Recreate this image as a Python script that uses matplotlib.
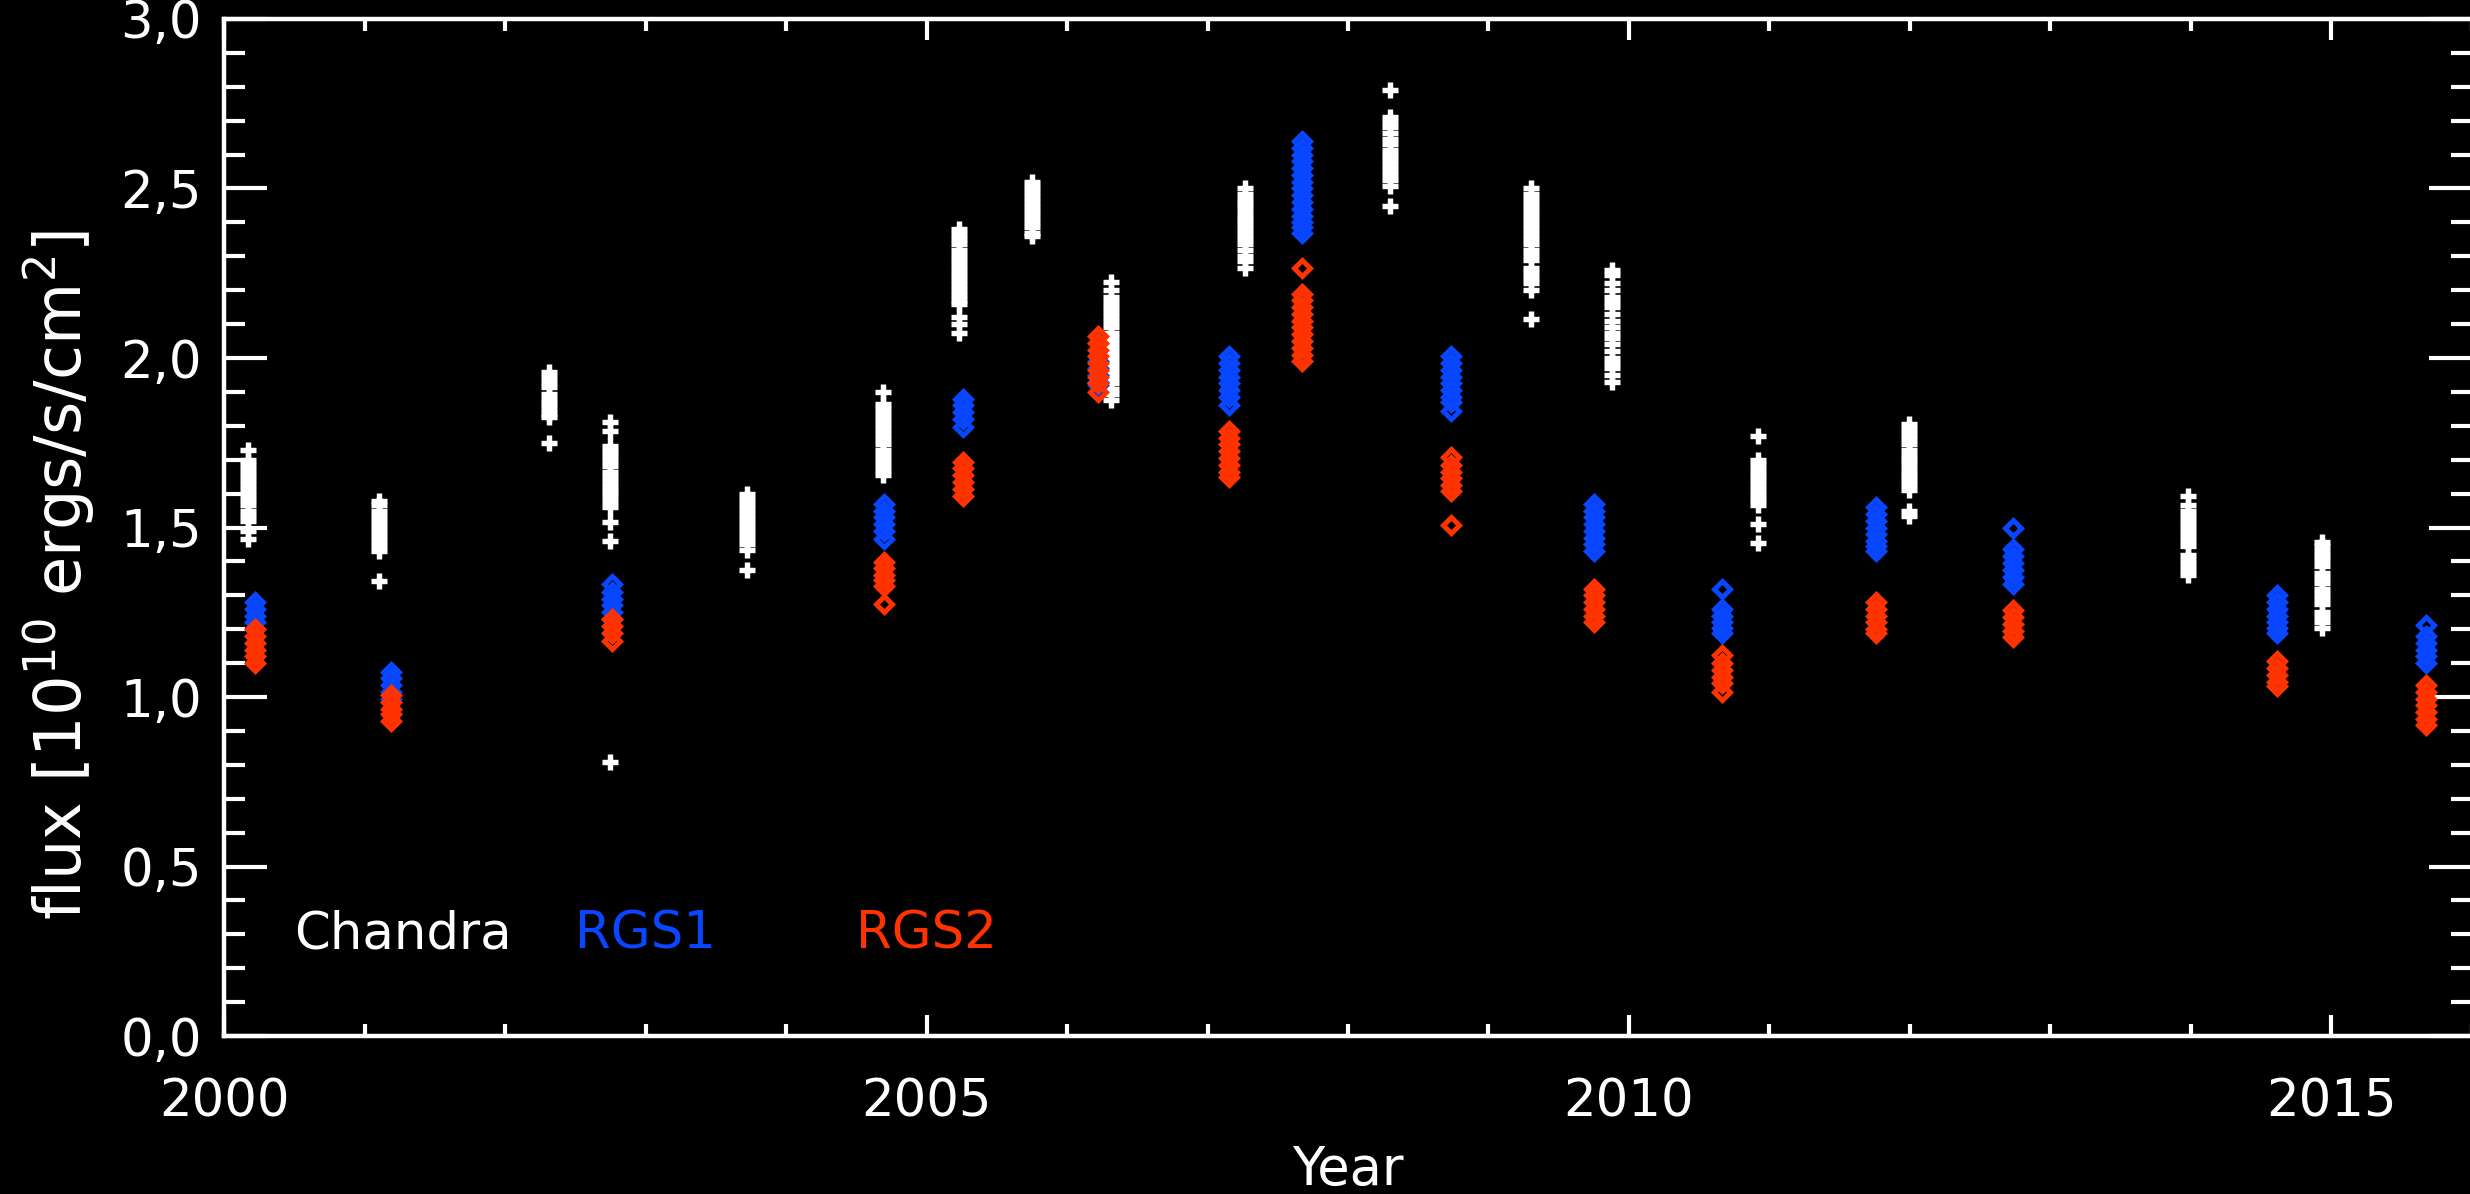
import numpy as np
import matplotlib.pyplot as plt
from matplotlib.ticker import MultipleLocator, FuncFormatter

chandra_years = [2000.17, 2001.10, 2002.31, 2002.75, 2003.72, 2004.69, 2005.23, 2005.75,
                 2006.31, 2007.27, 2008.30, 2009.30, 2009.88, 2010.92, 2011.99, 2013.98, 2014.93]
chandra_flux = [
    [1.73, 1.70, 1.685, 1.67, 1.655, 1.64, 1.625, 1.61, 1.595, 1.58, 1.565, 1.55, 1.535, 1.52, 1.49, 1.465],
    [1.578, 1.565, 1.55, 1.535, 1.52, 1.505, 1.49, 1.475, 1.46, 1.445, 1.43, 1.343],
    [1.96, 1.945, 1.93, 1.915, 1.895, 1.88, 1.865, 1.85, 1.835, 1.825, 1.75],
    [1.81, 1.785, 1.74, 1.725, 1.71, 1.695, 1.68, 1.665, 1.65, 1.635, 1.62, 1.605, 1.59, 1.575, 1.56,
     1.515, 1.46, 0.807],
    [1.60, 1.585, 1.57, 1.555, 1.54, 1.525, 1.51, 1.495, 1.48, 1.465, 1.45, 1.435, 1.375],
    [1.90, 1.865, 1.85, 1.835, 1.82, 1.805, 1.79, 1.775, 1.76, 1.745, 1.73, 1.715, 1.70, 1.685, 1.67, 1.655],
    [2.38, 2.365, 2.35, 2.335, 2.32, 2.305, 2.29, 2.275, 2.26, 2.245, 2.23, 2.215, 2.20, 2.185, 2.17,
     2.16, 2.12, 2.10, 2.075],
    [2.52, 2.505, 2.49, 2.475, 2.46, 2.445, 2.43, 2.415, 2.40, 2.385, 2.37, 2.36],
    [2.225, 2.20, 2.18, 2.165, 2.15, 2.135, 2.12, 2.105, 2.09, 2.075, 2.06, 2.045, 2.03, 2.015, 2.00,
     1.985, 1.97, 1.955, 1.94, 1.925, 1.91, 1.895, 1.877],
    [2.50, 2.485, 2.47, 2.455, 2.44, 2.425, 2.41, 2.395, 2.38, 2.365, 2.35, 2.335, 2.32, 2.30, 2.285, 2.265],
    [2.79, 2.71, 2.695, 2.68, 2.665, 2.645, 2.63, 2.615, 2.60, 2.585, 2.57, 2.555, 2.54, 2.525, 2.507, 2.448],
    [2.50, 2.485, 2.47, 2.455, 2.44, 2.425, 2.41, 2.395, 2.38, 2.365, 2.35, 2.335, 2.32, 2.305, 2.29,
     2.265, 2.25, 2.235, 2.22, 2.20, 2.115],
    [2.26, 2.245, 2.22, 2.20, 2.18, 2.165, 2.15, 2.13, 2.11, 2.09, 2.075, 2.06, 2.04, 2.02, 2.00,
     1.985, 1.97, 1.95, 1.93],
    [1.77, 1.70, 1.685, 1.67, 1.655, 1.64, 1.625, 1.61, 1.595, 1.58, 1.565, 1.51, 1.455],
    [1.806, 1.79, 1.775, 1.76, 1.745, 1.73, 1.715, 1.70, 1.685, 1.67, 1.655, 1.64, 1.625, 1.61, 1.55, 1.535],
    [1.594, 1.565, 1.55, 1.535, 1.52, 1.505, 1.49, 1.475, 1.46, 1.445, 1.42, 1.405, 1.39, 1.375, 1.36],
    [1.458, 1.445, 1.43, 1.415, 1.40, 1.385, 1.365, 1.35, 1.335, 1.32, 1.305, 1.29, 1.275, 1.25,
     1.235, 1.22, 1.205],
]

rgs_years = [2000.22, 2001.19, 2002.76, 2004.70, 2005.26, 2006.22, 2007.15, 2007.67,
             2008.73, 2009.75, 2010.66, 2011.76, 2012.73, 2014.61, 2015.67]
rgs1_flux = [
    [1.28, 1.26, 1.24, 1.22, 1.20],
    [1.074, 1.055, 1.035, 1.015, 0.995],
    [1.333, 1.31, 1.29, 1.27, 1.25, 1.23],
    [1.57, 1.55, 1.53, 1.51, 1.49, 1.466],
    [1.878, 1.86, 1.84, 1.82, 1.795],
    [1.99, 1.97, 1.95, 1.93, 1.92],
    [2.006, 1.985, 1.965, 1.945, 1.925, 1.905, 1.885, 1.86],
    [2.64, 2.62, 2.60, 2.58, 2.56, 2.54, 2.52, 2.50, 2.48, 2.46, 2.44, 2.42, 2.40, 2.385, 2.37],
    [2.006, 1.985, 1.965, 1.945, 1.925, 1.905, 1.885, 1.87, 1.845],
    [1.57, 1.55, 1.53, 1.51, 1.49, 1.47, 1.45, 1.43],
    [1.32, 1.26, 1.24, 1.22, 1.205, 1.19],
    [1.56, 1.54, 1.52, 1.50, 1.48, 1.46, 1.445, 1.43],
    [1.50, 1.436, 1.415, 1.395, 1.375, 1.355, 1.333],
    [1.30, 1.28, 1.26, 1.24, 1.22, 1.205, 1.19],
    [1.212, 1.18, 1.16, 1.14, 1.12, 1.10],
]
rgs2_flux = [
    [1.20, 1.18, 1.16, 1.14, 1.12, 1.10],
    [1.006, 0.985, 0.965, 0.95, 0.93],
    [1.23, 1.21, 1.19, 1.165],
    [1.398, 1.38, 1.36, 1.345, 1.327, 1.274],
    [1.693, 1.675, 1.655, 1.635, 1.615, 1.593],
    [2.065, 2.045, 2.025, 2.005, 1.985, 1.965, 1.945, 1.925, 1.90],
    [1.785, 1.765, 1.745, 1.725, 1.705, 1.685, 1.665, 1.65],
    [2.265, 2.19, 2.17, 2.15, 2.13, 2.11, 2.09, 2.07, 2.05, 2.03, 2.01, 1.99],
    [1.707, 1.685, 1.665, 1.645, 1.625, 1.607, 1.506],
    [1.32, 1.30, 1.28, 1.26, 1.24, 1.22],
    [1.124, 1.10, 1.08, 1.06, 1.04, 1.015],
    [1.28, 1.26, 1.24, 1.22, 1.20, 1.19],
    [1.257, 1.235, 1.215, 1.195, 1.177],
    [1.106, 1.085, 1.065, 1.045, 1.033],
    [1.036, 1.015, 0.995, 0.975, 0.955, 0.935, 0.918],
]

label_names = ['Chandra', 'RGS1', 'RGS2']
label_years = [2000.5, 2002.5, 2004.5]

white = 'white'
blue = '#0846ff'
red = '#ff3300'

plt.rcParams['font.family'] = ['DejaVu Sans']

fig = plt.figure(figsize=(24.7, 11.94), dpi=100, facecolor='black')
ax = fig.add_axes([0.0907, 0.1323, 1.0008 - 0.0907, 0.9841 - 0.1323])
ax.set_facecolor('black')

# chandra first, then rgs1, rgs2 on top
for yr, fl in zip(chandra_years, chandra_flux):
    ax.plot([yr] * len(fl), fl, ls='none', marker='+', ms=11.5, mew=3.9, color=white)
for yr, fl in zip(rgs_years, rgs1_flux):
    ax.plot([yr] * len(fl), fl, ls='none', marker='D', ms=8.5, mew=3.6, mfc='none', mec=blue)
for yr, fl in zip(rgs_years, rgs2_flux):
    ax.plot([yr] * len(fl), fl, ls='none', marker='D', ms=8.5, mew=3.6, mfc='none', mec=red)

for name, yr, col in zip(label_names, label_years, [white, blue, red]):
    ax.text(yr, 0.30, name, color=col, fontsize=37, va='center', ha='left')

ax.set_xlim(2000, 2016)
ax.set_ylim(0, 3.0)

ax.xaxis.set_major_locator(MultipleLocator(5))
ax.xaxis.set_minor_locator(MultipleLocator(1))
ax.yaxis.set_major_locator(MultipleLocator(0.5))
ax.yaxis.set_minor_locator(MultipleLocator(0.1))
ax.xaxis.set_major_formatter(FuncFormatter(lambda v, p: '%d' % round(v)))
ax.yaxis.set_major_formatter(FuncFormatter(lambda v, p: ('%.1f' % v).replace('.', ',')))

for s in ax.spines.values():
    s.set_color(white)
    s.set_linewidth(3.2)

ax.tick_params(axis='both', which='both', direction='in', colors=white,
               top=True, right=True, width=3)
ax.tick_params(axis='x', which='major', length=15, labelsize=37, pad=30)
ax.tick_params(axis='x', which='minor', length=8.5)
ax.tick_params(axis='y', which='major', length=31, labelsize=37, pad=16)
ax.tick_params(axis='y', which='minor', length=15)

fig.canvas.draw()
ylabs = ax.get_yticklabels()
ylabs[0].set_va('bottom')
ylabs[-1].set_va('top')

ax.set_xlabel('Year', color=white, fontsize=38, va='center')
ax.xaxis.set_label_coords(0.5, -0.132)
ax.set_ylabel(r'flux [10$^{10}$ ergs/s/cm$^2$]', color=white, fontsize=46, va='center')
ax.yaxis.set_label_coords(-0.073, 0.453)

fig.savefig('out.png', dpi=100, facecolor='black')
